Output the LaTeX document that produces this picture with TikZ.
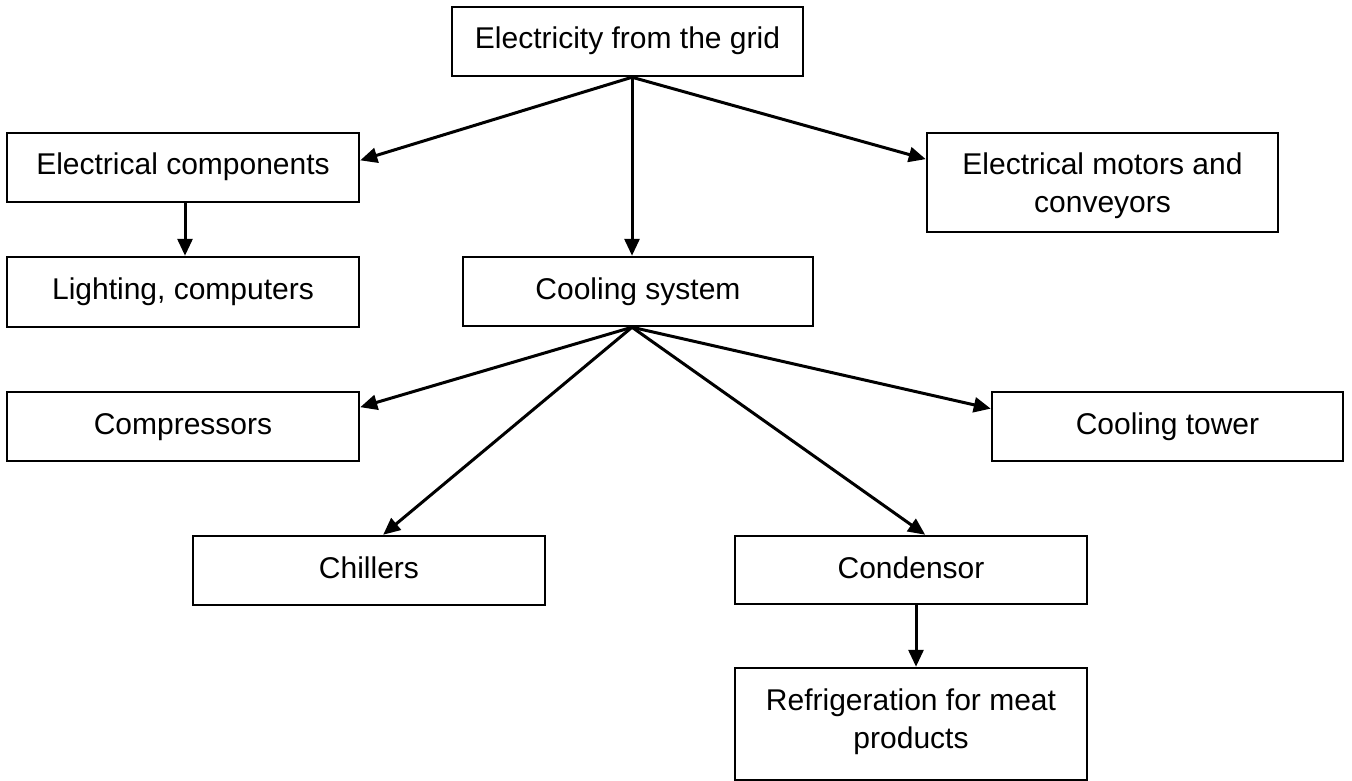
\documentclass[tikz,border=0pt]{standalone}
\usepackage{fontspec}
\setmainfont{Liberation Sans}
\usetikzlibrary{calc,arrows.meta}

% text block whose baseline is the first line
\newcommand{\boxtext}[1]{\begin{tabular}[t]{@{}c@{}}#1\end{tabular}}

\begin{document}
\begin{tikzpicture}[x=1pt,y=-1pt,
  font=\fontsize{30}{38}\selectfont,
  box/.style={draw=black, line width=2.5pt, rectangle, inner xsep=0pt, inner ysep=0pt,
    text height=42pt, minimum width=352pt},
  h69/.style={text depth=27pt},
  flow/.style={line width=3pt, -{Triangle[length=17pt,width=15pt]}}]

\useasboundingbox (0,0) rectangle (1352,781);

% boxes
\node[box,h69, minimum width=351pt] (top)    at (627.5,41.5) {\boxtext{Electricity from the grid}};
\node[box,h69]                      (elec)   at (183,167.5)  {\boxtext{Electrical components}};
\node[box,text depth=57pt, minimum width=351pt] (motors) at (1102.5,182.5) {\boxtext{Electrical motors and\\conveyors}};
\node[box,text depth=28pt]          (light)  at (183,292)    {\boxtext{Lighting, computers}};
\node[box,h69, minimum width=350pt] (cool)   at (638,291.5)  {\boxtext{Cooling system}};
\node[box,h69]                      (comp)   at (183,426.5)  {\boxtext{Compressors}};
\node[box,h69, minimum width=351pt] (tower)  at (1167.5,426.5) {\boxtext{Cooling tower}};
\node[box,h69]                      (chill)  at (369,570.5)  {\boxtext{Chillers}};
\node[box,text depth=26pt]          (cond)   at (911,570)    {\boxtext{Condensor}};
\node[box,text depth=70pt]          (refrig) at (911,724)    {\boxtext{Refrigeration for meat\\products}};

% fan-out points
\coordinate (topsrc)  at ($(top.south)+(4.5,0)$);
\coordinate (coolsrc) at ($(cool.south)+(-6,0)$);

% connectors from the grid
\draw[flow] (topsrc) -- ($(elec.north east)!0.4!(elec.south east)$);
\draw[flow] (topsrc) -- (topsrc |- cool.north);
\draw[flow] (topsrc) -- ($(motors.north west)!0.27!(motors.south west)$);
\draw[flow] ($(elec.south)+(2,0)$) coordinate (elecsrc) -- (elecsrc |- light.north);

% connectors from the cooling system
\draw[flow] (coolsrc) -- ($(comp.north east)!0.23!(comp.south east)$);
\draw[flow] (coolsrc) -- ($(chill.north west)!0.54!(chill.north east)$);
\draw[flow] (coolsrc) -- ($(cond.north west)!0.54!(cond.north east)$);
\draw[flow] (coolsrc) -- ($(tower.north west)!0.25!(tower.south west)$);
\draw[flow] ($(cond.south)+(5,0)$) coordinate (condsrc) -- (condsrc |- refrig.north);

\end{tikzpicture}
\end{document}
